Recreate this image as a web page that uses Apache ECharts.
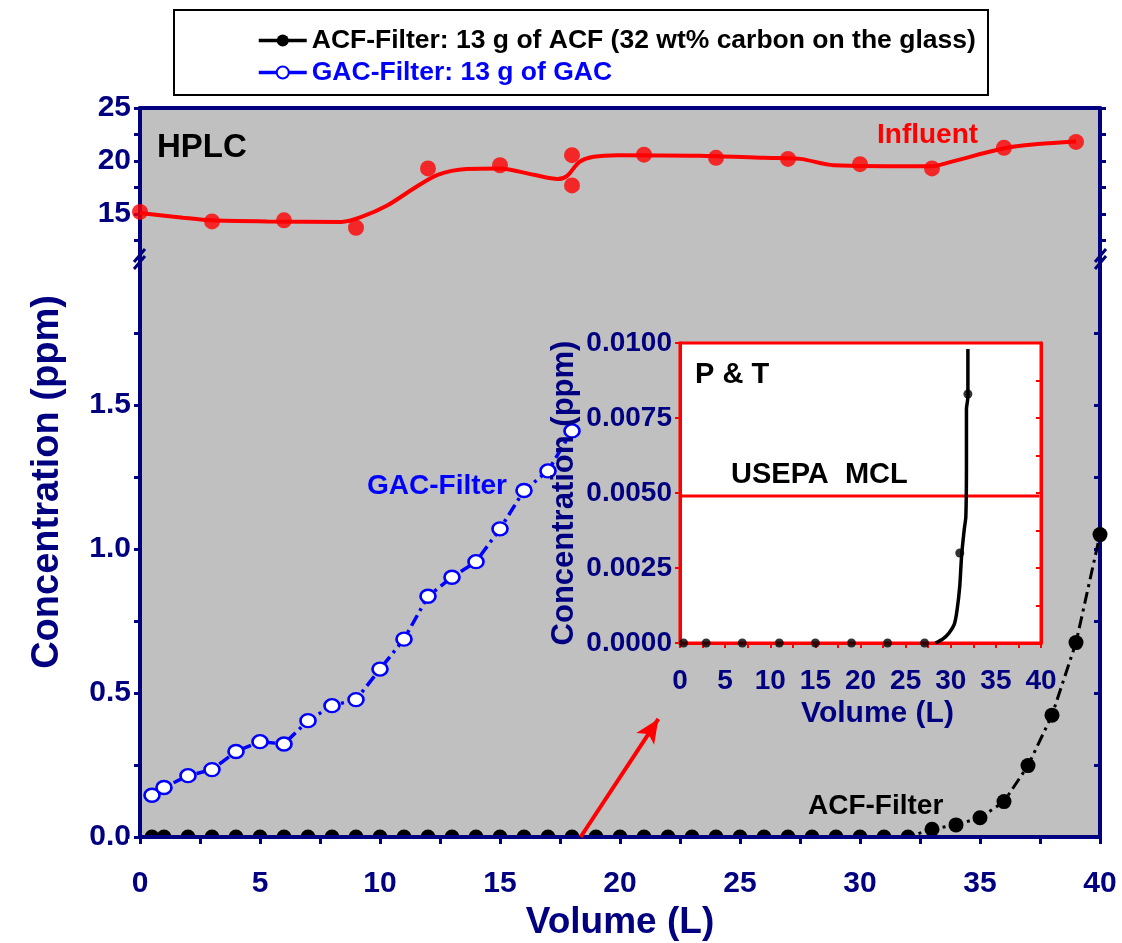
<!DOCTYPE html>
<html><head><meta charset="utf-8">
<script src="https://cdn.jsdelivr.net/npm/echarts@6/dist/echarts.min.js"></script>
<style>html,body{margin:0;padding:0;background:#fff}#c{width:1122px;height:943px}</style>
</head><body><div id="c"></div>
<script>
const FONT = "'Liberation Sans', Arial, Helvetica, sans-serif";
const NAVY = '#000080';
const BLUE = '#0000ff';
const RED = '#ff0000';

// ---------- data ----------
const influentX = [0, 3, 6, 9, 12, 15, 18, 18, 21, 24, 27, 30, 33, 36, 39];
const influentY = [15.2, 14.3, 14.4, 13.7, 19.3, 19.6, 20.55, 17.7, 20.6, 20.3, 20.2, 19.7, 19.3, 21.25, 21.8];
const influentFitX = [0, 1.8, 3, 5.3, 8.4, 9.2, 10.3, 11.4, 12.4, 13.6, 15, 16.4, 17.4, 17.8, 18.3, 18.9, 19.9, 23.3, 26, 27.5, 28.9, 33, 33.6, 36, 37.4, 39];
const influentFitY = [15.1, 14.65, 14.4, 14.3, 14.25, 14.7, 15.8, 17.4, 18.7, 19.25, 19.3, 18.7, 18.3, 18.6, 19.9, 20.4, 20.55, 20.5, 20.3, 20.2, 19.6, 19.5, 19.8, 21.2, 21.6, 21.85];

const acfX = [0.5, 1, 2, 3, 4, 5, 6, 7, 8, 9, 10, 11, 12, 13, 14, 15, 16, 17, 18, 19, 20, 21, 22, 23, 24, 25, 26, 27, 28, 29, 30, 31, 32, 33, 34, 35, 36, 37, 38, 39, 40];
const acfY = [0, 0, 0, 0, 0, 0, 0, 0, 0, 0, 0, 0, 0, 0, 0, 0, 0, 0, 0, 0, 0, 0, 0, 0, 0, 0, 0, 0, 0, 0, 0, 0, 0, 0.027, 0.042, 0.067, 0.123, 0.248, 0.423, 0.675, 1.05];

const gacX = [0.5, 1, 2, 3, 4, 5, 6, 7, 8, 9, 10, 11, 12, 13, 14, 15, 16, 17, 18];
const gacY = [0.145, 0.172, 0.213, 0.234, 0.297, 0.331, 0.323, 0.404, 0.456, 0.477, 0.583, 0.687, 0.836, 0.902, 0.956, 1.07, 1.203, 1.271, 1.41];

const ptX = [0.4, 2.9, 6.9, 11, 15, 19, 23, 27.1, 31.0, 31.9];
const ptY = [0, 0, 0, 0, 0, 0, 0, 0, 0.003, 0.0083];
const ptFitX = [28.3, 29.1, 29.8, 30.4, 30.7, 31.0, 31.2, 31.5, 31.67, 31.74, 31.74, 31.9, 31.9];
const ptFitY = [0, 0.00013, 0.00033, 0.00063, 0.0011, 0.0019, 0.0029, 0.0038, 0.0042, 0.006, 0.0078, 0.0082, 0.0098];
const mclX = [0, 39.8];
const mclY = [0.0049, 0.0049];

const arrowFrom = [18.36, 0];
const arrowTo = [21.6, 0.41];

const volumeTicks = [0, 5, 10, 15, 20, 25, 30, 35, 40];
const upperTicks = [15, 20, 25];
const lowerTicks = [0, 0.5, 1.0, 1.5];
const insetTicks = [0, 0.0025, 0.005, 0.0075, 0.01];

const ACF_NAME = 'ACF-Filter: 13 g of ACF (32 wt% carbon on the glass)';
const GAC_NAME = 'GAC-Filter: 13 g of GAC';

const zip = (a, b) => a.map((v, i) => [v, b[i]]);

const lblStyle = (size, color) => ({ fontFamily: FONT, fontWeight: 'bold', fontSize: size, color: color || NAVY });

function txt(t, x, y, size, color, extra) {
  return Object.assign({
    type: 'text', x: x, y: y, z: 20,
    style: { text: t, font: 'bold ' + size + 'px ' + FONT, fill: color,
      align: 'left', verticalAlign: 'middle', textAlign: 'left', textVerticalAlign: 'middle' }
  }, extra || {});
}

const chart = echarts.init(document.getElementById('c'), null, { renderer: 'canvas' });
const option = {
  animation: false,
  backgroundColor: '#fff',
  grid: [
    { left: 140, right: 22, top: 108, bottom: 943 - 267, show: true, backgroundColor: '#c0c0c0', borderWidth: 0, outerBoundsMode: 'none', containLabel: false },
    { left: 140, right: 22, top: 261, bottom: 943 - 837, show: true, backgroundColor: '#c0c0c0', borderWidth: 0, outerBoundsMode: 'none', containLabel: false },
    { left: 680, right: 1122 - 1041, top: 343, bottom: 943 - 643, show: true, backgroundColor: '#fff', borderColor: RED, borderWidth: 3, z: 5, outerBoundsMode: 'none', containLabel: false }
  ],
  legend: {
    data: [{ name: ACF_NAME, textStyle: { color: '#000' } }, { name: GAC_NAME, textStyle: { color: BLUE } }],
    orient: 'vertical', left: 252, top: 22, itemWidth: 48, itemHeight: 15, itemGap: 5,
    textStyle: { fontFamily: FONT, fontWeight: 'bold', fontSize: 26.5 },
    lineStyle: { type: 'solid', width: 3.5 }
  },
  xAxis: [
    { gridIndex: 0, type: 'value', position: 'top', min: 0, max: 40, interval: 5,
      axisLine: { show: true, lineStyle: { color: NAVY, width: 4 } }, axisTick: { show: false },
      axisLabel: { show: false }, splitLine: { show: false } },
    { gridIndex: 1, type: 'value', position: 'bottom', min: 0, max: 40, interval: 5, z: 4,
      axisLine: { show: true, onZero: false, lineStyle: { color: NAVY, width: 4 } },
      axisTick: { show: true, length: 7, lineStyle: { color: NAVY, width: 3 } },
      minorTick: { show: true, splitNumber: 2, length: 7, lineStyle: { color: NAVY, width: 3 } },
      axisLabel: Object.assign({ margin: 32, customValues: volumeTicks }, lblStyle(30)),
      splitLine: { show: false },
      name: 'Volume (L)', nameLocation: 'middle', nameGap: 63,
      nameTextStyle: lblStyle(37) },
    { gridIndex: 2, type: 'value', position: 'bottom', min: 0, max: 40, interval: 5, z: 6,
      axisLine: { show: true, onZero: false, lineStyle: { color: RED, width: 3 } },
      axisTick: { show: true, length: 5, lineStyle: { color: RED, width: 2 } },
      minorTick: { show: true, splitNumber: 2, length: 5, lineStyle: { color: RED, width: 2 } },
      axisLabel: Object.assign({ margin: 24, customValues: volumeTicks }, lblStyle(28)),
      splitLine: { show: false },
      name: 'Volume (L)', nameLocation: 'middle', nameGap: 56,
      nameTextStyle: Object.assign({ padding: [0, 0, 0, 34] }, lblStyle(30)) }
  ],
  yAxis: [
    { gridIndex: 0, type: 'value', position: 'left', min: 10, max: 25, interval: 5,
      axisLine: { show: true, lineStyle: { color: NAVY, width: 4 } },
      axisTick: { show: true, length: 6, customValues: upperTicks, lineStyle: { color: NAVY, width: 3 } },
      minorTick: { show: true, splitNumber: 2, length: 6, lineStyle: { color: NAVY, width: 3 } },
      axisLabel: Object.assign({ margin: 9, customValues: upperTicks }, lblStyle(30)),
      splitLine: { show: false } },
    { gridIndex: 0, type: 'value', position: 'right', min: 10, max: 25, interval: 5,
      axisLine: { show: true, lineStyle: { color: NAVY, width: 4 } },
      axisTick: { show: true, length: 6, customValues: upperTicks, lineStyle: { color: NAVY, width: 3 } },
      minorTick: { show: true, splitNumber: 2, length: 6, lineStyle: { color: NAVY, width: 3 } },
      axisLabel: { show: false }, splitLine: { show: false } },
    { gridIndex: 1, type: 'value', position: 'left', min: 0, max: 2, interval: 0.5,
      axisLine: { show: true, lineStyle: { color: NAVY, width: 4 } },
      axisTick: { show: true, length: 6, customValues: lowerTicks, lineStyle: { color: NAVY, width: 3 } },
      minorTick: { show: true, splitNumber: 2, length: 6, lineStyle: { color: NAVY, width: 3 } },
      axisLabel: Object.assign({ margin: 9, customValues: lowerTicks, formatter: v => v.toFixed(1) }, lblStyle(30)),
      splitLine: { show: false } },
    { gridIndex: 1, type: 'value', position: 'right', min: 0, max: 2, interval: 0.5,
      axisLine: { show: true, lineStyle: { color: NAVY, width: 4 } },
      axisTick: { show: true, inside: true, length: 6, customValues: lowerTicks, lineStyle: { color: NAVY, width: 3 } },
      minorTick: { show: true, splitNumber: 2, length: 6, lineStyle: { color: NAVY, width: 3 } },
      axisLabel: { show: false }, splitLine: { show: false } },
    { gridIndex: 2, type: 'value', position: 'left', min: 0, max: 0.01, interval: 0.0025, z: 6,
      axisLine: { show: true, lineStyle: { color: RED, width: 3 } },
      axisTick: { show: true, length: 5, lineStyle: { color: RED, width: 2 } },
      axisLabel: Object.assign({ margin: 8, customValues: insetTicks, formatter: v => v.toFixed(4) }, lblStyle(28)),
      splitLine: { show: false },
      name: 'Concentration (ppm)', nameLocation: 'middle', nameGap: 100,
      nameTextStyle: lblStyle(31) },
    { gridIndex: 2, type: 'value', position: 'right', min: 0, max: 0.01, interval: 0.0025, z: 6,
      axisLine: { show: true, lineStyle: { color: RED, width: 3 } },
      axisTick: { show: true, inside: true, length: 5, lineStyle: { color: RED, width: 2 } },
      minorTick: { show: true, splitNumber: 2, length: 5, lineStyle: { color: RED, width: 2 } },
      axisLabel: { show: false }, splitLine: { show: false } }
  ],
  series: [
    { name: 'InfluentFit', type: 'line', xAxisIndex: 0, yAxisIndex: 0, data: zip(influentFitX, influentFitY),
      showSymbol: false, smooth: 0.3, lineStyle: { color: RED, width: 4 }, z: 2 },
    { name: 'Influent', type: 'scatter', xAxisIndex: 0, yAxisIndex: 0, data: zip(influentX, influentY),
      symbol: 'circle', symbolSize: 16, itemStyle: { color: RED }, z: 3 },
    { name: ACF_NAME, type: 'line', xAxisIndex: 1, yAxisIndex: 2, data: zip(acfX, acfY),
      symbol: 'circle', symbolSize: 15, itemStyle: { color: '#000' },
      lineStyle: { color: '#000', width: 3, type: [12, 5, 3, 5] }, z: 2,
      markLine: { silent: true, symbol: ['none', 'arrow'], symbolSize: [16, 24],
        label: { show: false }, lineStyle: { color: RED, width: 4, type: 'solid' },
        data: [[{ coord: arrowFrom }, { coord: arrowTo }]] } },
    { name: GAC_NAME, type: 'line', xAxisIndex: 1, yAxisIndex: 2, data: zip(gacX, gacY),
      symbol: 'circle', symbolSize: [15, 13], itemStyle: { color: '#fff', borderColor: BLUE, borderWidth: 2.5 },
      lineStyle: { color: BLUE, width: 3.5, type: [12, 5, 3, 5] }, z: 2 },
    { name: 'MCL', type: 'line', xAxisIndex: 2, yAxisIndex: 4, data: zip(mclX, mclY),
      showSymbol: false, lineStyle: { color: RED, width: 3 }, z: 7 },
    { name: 'PTFit', type: 'line', xAxisIndex: 2, yAxisIndex: 4, data: zip(ptFitX, ptFitY),
      showSymbol: false, smooth: 0.2, lineStyle: { color: '#000', width: 3.5 }, z: 7 },
    { name: 'PT', type: 'scatter', xAxisIndex: 2, yAxisIndex: 4, data: zip(ptX, ptY),
      symbol: 'circle', symbolSize: 9, itemStyle: { color: '#000' }, z: 8 }
  ],
  graphic: [
    { type: 'rect', z: 1, shape: { x: 174, y: 10, width: 814, height: 85 }, style: { fill: 'none', stroke: '#000', lineWidth: 2 } },
    { type: 'rect', z: 3, shape: { x: 128, y: 839, width: 985, height: 10 }, style: { fill: '#fff' } },
    { type: 'line', z: 10, shape: { x1: 134, y1: 262, x2: 145, y2: 249 }, style: { stroke: NAVY, lineWidth: 3 } },
    { type: 'line', z: 10, shape: { x1: 134, y1: 269, x2: 145, y2: 256 }, style: { stroke: NAVY, lineWidth: 3 } },
    { type: 'line', z: 10, shape: { x1: 1095, y1: 262, x2: 1106, y2: 249 }, style: { stroke: NAVY, lineWidth: 3 } },
    { type: 'line', z: 10, shape: { x1: 1095, y1: 269, x2: 1106, y2: 256 }, style: { stroke: NAVY, lineWidth: 3 } },
    txt('HPLC', 157, 148, 33, '#000'),
    txt('Influent', 877, 135, 28, RED),
    txt('GAC-Filter', 367, 486, 28, BLUE),
    txt('ACF-Filter', 808, 806, 28, '#000'),
    txt('P & T', 695, 375, 29, '#000'),
    txt('USEPA  MCL', 731, 475, 29, '#000'),
    { type: 'text', x: 48, y: 482, rotation: Math.PI / 2, z: 20,
      style: { text: 'Concentration (ppm)', font: 'bold 38px ' + FONT, fill: NAVY,
        align: 'center', verticalAlign: 'middle', textAlign: 'center', textVerticalAlign: 'middle' } }
  ]
};
chart.setOption(option);
</script>
</body></html>
